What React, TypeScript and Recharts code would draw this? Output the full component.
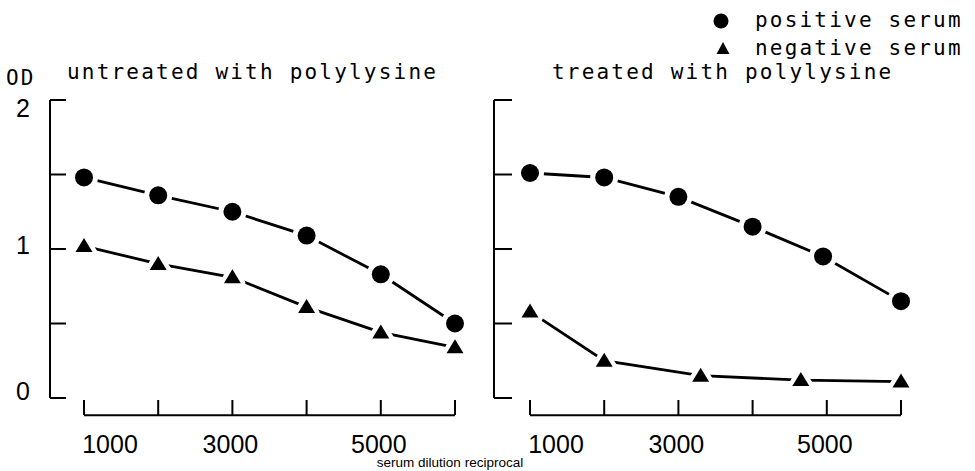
import React from 'react';
import { LineChart, Line, XAxis, YAxis, ReferenceLine } from 'recharts';

// x: serum dilution reciprocal, y: OD
const dilutionTicks = [1000, 2000, 3000, 4000, 5000, 6000];
const labelledDilutions = [1000, 3000, 5000];
const odTicks = [0, 0.5, 1, 1.5, 2];
const labelledOd = [0, 1, 2];

const untreatedDilutions = [1000, 2000, 3000, 4000, 5000, 6000];
const untreatedPositive = [1.48, 1.36, 1.25, 1.09, 0.83, 0.5];
const untreatedNegative = [1.02, 0.9, 0.81, 0.61, 0.44, 0.34];

const treatedPositiveDilutions = [1000, 2000, 3000, 4000, 4950, 6000];
const treatedPositive = [1.51, 1.48, 1.35, 1.15, 0.95, 0.65];
const treatedNegativeDilutions = [1000, 2000, 3300, 4650, 6000];
const treatedNegative = [0.58, 0.25, 0.15, 0.12, 0.11];

// the x axis line hangs a little below OD 0
const X_AXIS_LEVEL = -0.115;

const MONO = "'DejaVu Sans Mono', monospace";
const SANS = "'Liberation Sans', Arial, sans-serif";

const toRows = (xs: number[], ys: number[]) => xs.map((d, i) => ({ dil: d, od: ys[i] }));

const CircleDot = (props: any) => {
  const { cx, cy } = props;
  if (cx == null || cy == null) return null;
  return (
    <circle cx={cx} cy={cy} r={9} fill="#000" stroke="#fff" strokeWidth={10} paintOrder="stroke" />
  );
};

const TriangleDot = (props: any) => {
  const { cx, cy } = props;
  if (cx == null || cy == null) return null;
  const pts = `${cx},${cy - 8} ${cx - 8.5},${cy + 6} ${cx + 8.5},${cy + 6}`;
  return (
    <polygon
      points={pts}
      fill="#000"
      stroke="#fff"
      strokeWidth={9}
      strokeLinejoin="round"
      paintOrder="stroke"
    />
  );
};

const XTick = (props: any) => {
  const { x, y, payload } = props;
  const v = payload.value;
  const shift = v === 1000 ? 26 : -2;
  return (
    <g>
      <line x1={x} x2={x} y1={y + 2} y2={y + 17} stroke="#000" strokeWidth={2} />
      {labelledDilutions.includes(v) && (
        <text x={x + shift} y={y + 55} textAnchor="middle" fontFamily={SANS} fontSize={25} fill="#000">
          {v}
        </text>
      )}
    </g>
  );
};

const makeYTick = (len: number, showLabels: boolean) => (props: any) => {
  const { x, y, payload } = props;
  const v = payload.value;
  const dyByValue: Record<number, number> = { 2: 17, 1: 5, 0: 2 };
  return (
    <g>
      <line x1={x} x2={x + len} y1={y} y2={y} stroke="#000" strokeWidth={2} />
      {showLabels && labelledOd.includes(v) && (
        <text x={x - 27} y={y + (dyByValue[v] ?? 9)} textAnchor="middle" fontFamily={SANS} fontSize={25} fill="#000">
          {v}
        </text>
      )}
    </g>
  );
};

type PanelProps = {
  left: number;
  width: number;
  marginRight: number;
  yAxisWidth: number;
  padLeft: number;
  tickLen: number;
  showLabels: boolean;
  positive: { dil: number; od: number }[];
  negative: { dil: number; od: number }[];
};

const Panel = (p: PanelProps) => (
  <div style={{ position: 'absolute', left: p.left, top: 0 }}>
    <LineChart width={p.width} height={471} margin={{ top: 100, right: p.marginRight, bottom: 0, left: 0 }}>
      <XAxis
        type="number"
        dataKey="dil"
        domain={[1000, 6000]}
        ticks={dilutionTicks}
        interval={0}
        padding={{ left: p.padLeft, right: 15 }}
        axisLine={false}
        tickLine={false}
        tickSize={0}
        tickMargin={0}
        height={73}
        tick={<XTick />}
      />
      <YAxis
        type="number"
        domain={[0, 2]}
        ticks={odTicks}
        interval={0}
        width={p.yAxisWidth}
        axisLine={{ stroke: '#000', strokeWidth: 2 }}
        tickLine={false}
        tickSize={0}
        tickMargin={0}
        tick={makeYTick(p.tickLen, p.showLabels)}
      />
      <ReferenceLine
        segment={[
          { x: 1000, y: X_AXIS_LEVEL },
          { x: 6000, y: X_AXIS_LEVEL },
        ]}
        ifOverflow="visible"
        stroke="#000"
        strokeWidth={2}
      />
      <Line
        data={p.positive}
        dataKey="od"
        type="linear"
        stroke="#000"
        strokeWidth={2.8}
        dot={(d: any) => <CircleDot key={`p${d.index}`} {...d} />}
        activeDot={false}
        isAnimationActive={false}
      />
      <Line
        data={p.negative}
        dataKey="od"
        type="linear"
        stroke="#000"
        strokeWidth={2.8}
        dot={(d: any) => <TriangleDot key={`n${d.index}`} {...d} />}
        activeDot={false}
        isAnimationActive={false}
      />
    </LineChart>
  </div>
);

export default function App() {
  const textStyle = { fontFamily: MONO, fontSize: 21, letterSpacing: 2.2, fill: '#000' };
  return (
    <div style={{ position: 'absolute', left: 0, top: 0, width: 975, height: 471, background: '#fff' }}>
      <Panel
        left={0}
        width={480}
        marginRight={10}
        yAxisWidth={50}
        padLeft={34}
        tickLen={16}
        showLabels
        positive={toRows(untreatedDilutions, untreatedPositive)}
        negative={toRows(untreatedDilutions, untreatedNegative)}
      />
      <Panel
        left={480}
        width={495}
        marginRight={59}
        yAxisWidth={14}
        padLeft={36}
        tickLen={18}
        showLabels={false}
        positive={toRows(treatedPositiveDilutions, treatedPositive)}
        negative={toRows(treatedNegativeDilutions, treatedNegative)}
      />
      <svg width={975} height={471} style={{ position: 'absolute', left: 0, top: 0, pointerEvents: 'none' }}>
        <text x={6} y={85} {...textStyle}>OD</text>
        <text x={67} y={79} {...textStyle}>untreated with polylysine</text>
        <text x={552} y={79} {...textStyle}>treated with polylysine</text>
        <circle cx={721} cy={21} r={7.5} fill="#000" />
        <text x={755} y={27} {...textStyle}>positive serum</text>
        <polygon points="723,42 716.5,54 729.5,54" fill="#000" />
        <text x={755} y={55} {...textStyle}>negative serum</text>
        <text x={450} y={467} textAnchor="middle" fontFamily={SANS} fontSize={13.5} fill="#000">
          serum dilution reciprocal
        </text>
      </svg>
    </div>
  );
}
